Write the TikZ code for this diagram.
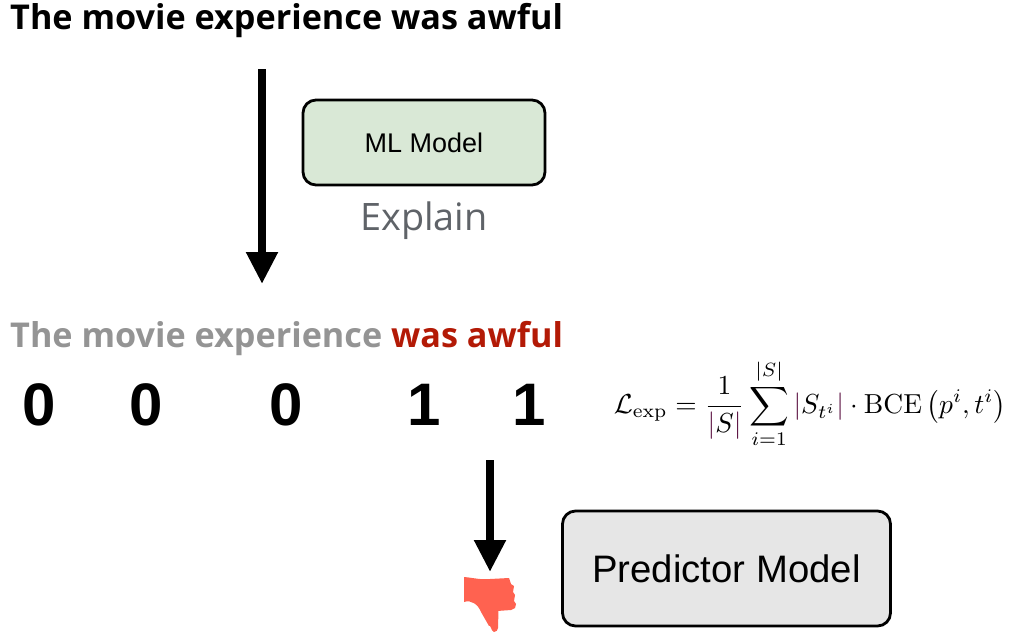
\documentclass[tikz,border=0pt]{standalone}
\usepackage{amsmath}
\usepackage[no-math]{fontspec}
\setmainfont{Open Sans}
\newfontfamily\digitfont{Liberation Sans}
\newfontfamily\boxfont{Liberation Sans}
\usetikzlibrary{arrows.meta}
\definecolor{modelgreen}{HTML}{D9E8D6}
\definecolor{modelgray}{HTML}{E6E6E6}
\definecolor{awfulred}{HTML}{B31A06}
\definecolor{fadedgray}{HTML}{949494}
\definecolor{explaingray}{HTML}{5F6368}
\definecolor{thumbred}{HTML}{FF6250}
\definecolor{barpurple}{HTML}{5A1040}
\newcommand{\cbar}{\textcolor{barpurple}{|}}
\tikzset{
	sentence/.style={anchor=base west,inner sep=0pt,font=\fontsize{34.2}{40}\selectfont\bfseries},
	digit/.style={anchor=base,inner sep=0pt,font=\digitfont\fontsize{60}{70}\selectfont\bfseries},
	modelbox/.style={draw,line width=2.8pt,rounded corners=13pt,inner sep=0pt},
	bigarrow/.style={line width=8.5pt,-{Triangle[width=30pt,length=32pt]}}
}
\begin{document}
\begin{tikzpicture}[x=1pt,y=-1pt]
	\useasboundingbox (0,0) rectangle (1010,637);
	% sentences
	\node[sentence] (top) at (10,30) {The movie experience was awful};
	\node[sentence] (marked) at (10,347) {\textcolor{fadedgray}{The movie experience} \textcolor{awfulred}{was awful}};
	% labels per word
	\node[digit] (d1) at (39,425) {0};
	\node[digit] (d2) at (146,425) {0};
	\node[digit] (d3) at (286,425) {0};
	\node[digit] (d4) at (424,425) {1};
	\node[digit] (d5) at (529,425) {1};
	% models
	\node[modelbox,fill=modelgreen,minimum width=242pt,minimum height=85pt,font=\boxfont\fontsize{27}{30}\selectfont] (mlmodel) at (424,142.5) {ML Model};
	\node[anchor=base,inner sep=0pt,text=explaingray,font=\fontsize{37.8}{42}\selectfont] (explain) at (424,230) {Explain};
	\node[modelbox,fill=modelgray,minimum width=328pt,minimum height=115pt,font=\boxfont\fontsize{38.3}{44}\selectfont] (predictor) at (726.5,568.5) {Predictor Model};
	% arrows
	\coordinate (a1s) at (262,69);
	\coordinate (a1e) at (262,284);
	\coordinate (a2s) at (490,460);
	\coordinate (a2e) at (490,572);
	\draw[bigarrow] (a1s) -- (a1e);
	\draw[bigarrow] (a2s) -- (a2e);
	% loss
	\node[inner sep=0pt,scale=2.75] (loss) at (810,404) {$\displaystyle \mathcal{L}_{\exp}=\frac{1}{\cbar S\cbar}\sum_{i=1}^{|S|}\cbar S_{t^i}\cbar\cdot\mathrm{BCE}\left(p^i,t^i\right)$};
	% thumb
	\fill[thumbred] (464,577) to[out=-5,in=185] (490,579) -- (509,578) -- (511,584) -- (514,586) -- (513,592) -- (515,595) -- (514,601) -- (516,604) -- (515,608) -- (511,610) -- (497,611) to[out=70,in=90] (498,628) to[out=-90,in=0] (494,632) to[out=170,in=60] (489,626) -- (481,612) to[out=110,in=20] (464,602) -- cycle;
\end{tikzpicture}
\end{document}
